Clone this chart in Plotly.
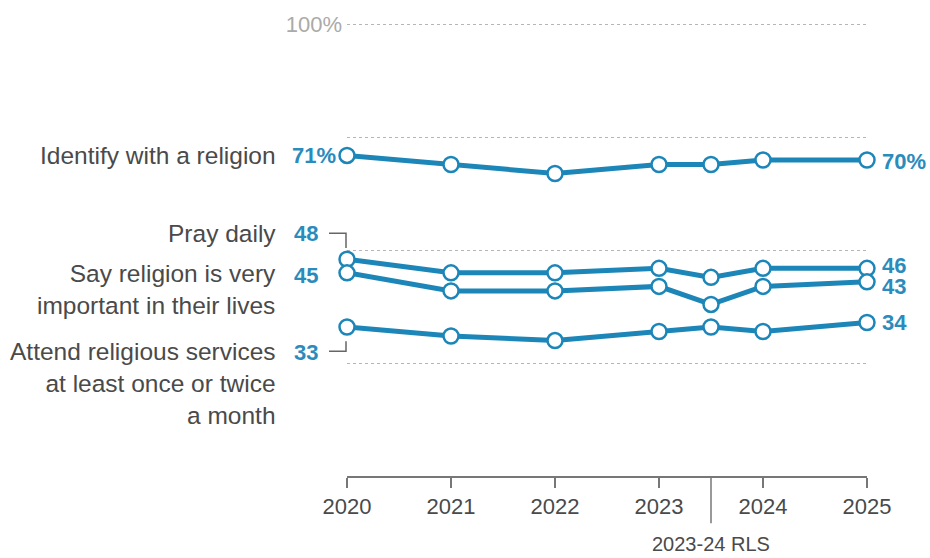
import plotly.graph_objects as go

# ---- data ----
years = [2020, 2021, 2022, 2023, 2023.5, 2024, 2025]
tick_years = [2020, 2021, 2022, 2023, 2024, 2025]
tick_labels = ["2020", "2021", "2022", "2023", "2024", "2025"]
identify = [71, 69, 67, 69, 69, 70, 70]
pray = [48, 45, 45, 46, 44, 46, 46]
important = [45, 41, 41, 42, 38, 42, 43]
attend = [33, 31, 30, 32, 33, 32, 34]
series_names = [
    "Identify with a religion",
    "Pray daily",
    "Say religion is very<br>important in their lives",
    "Attend religious services<br>at least once or twice<br>a month",
]
grid_vals = [25, 50, 75, 100]
grid_text = ["", "", "", "100%"]
rls_x = 2023.5
rls_label = "2023-24 RLS"

# ---- styling ----
BLUE = "#1d86b8"
LBLUE = "#2a8bbd"
GRAY = "#4a4a4a"
FONT = "Liberation Sans, Arial, sans-serif"
W, H = 930, 558
ML, MR, MT, MB = 347, 63, 12, 82
PW, PH = W - ML - MR, H - MT - MB


def px_x(px):
    return (px - ML) / PW


def px_y(py):
    return (H - MB - py) / PH


all_series = [identify, pray, important, attend]

fig = go.Figure()
for name, vals in zip(series_names, all_series):
    fig.add_trace(go.Scatter(
        x=years, y=vals, mode="lines+markers", name=name.replace("<br>", " "),
        line=dict(color=BLUE, width=5),
        marker=dict(size=15, color="white", line=dict(color=BLUE, width=2.5)),
        cliponaxis=False, hoverinfo="skip", showlegend=False,
    ))

ann = []
left_text_shift = [0, 26, -17, -56]
left_val_shift = [0, 26, -3, -25]
right_val_shift = [-2, 3, -5, 0]
for i, (name, vals) in enumerate(zip(series_names, all_series)):
    suffix = "%" if i == 0 else ""
    ann.append(dict(x=years[0], y=vals[0], xref="x", yref="y", text=name,
                    showarrow=False, xanchor="right", yanchor="middle", align="right",
                    xshift=-69, yshift=left_text_shift[i],
                    font=dict(family=FONT, size=24.5, color=GRAY)))
    ann.append(dict(x=years[0], y=vals[0], xref="x", yref="y",
                    text="<b>%d%s</b>" % (vals[0], suffix),
                    showarrow=False, xanchor="right", yanchor="middle",
                    xshift=-9 if i == 0 else -27, yshift=left_val_shift[i],
                    font=dict(family=FONT, size=22, color=LBLUE)))
    ann.append(dict(x=years[-1], y=vals[-1], xref="x", yref="y",
                    text="<b>%d%s</b>" % (vals[-1], suffix),
                    showarrow=False, xanchor="left", yanchor="middle",
                    xshift=13, yshift=right_val_shift[i],
                    font=dict(family=FONT, size=22, color=LBLUE)))

ann.append(dict(x=rls_x, y=px_y(545), xref="x", yref="paper", text=rls_label,
                showarrow=False, xanchor="center", yanchor="middle",
                font=dict(family=FONT, size=20, color=GRAY)))

shapes = [
    dict(type="line", xref="x", yref="paper", x0=rls_x, x1=rls_x,
         y0=0, y1=px_y(524), line=dict(color="#777", width=1.5)),
    dict(type="path", xref="paper", yref="paper",
         path="M %f,%f L %f,%f L %f,%f" % (px_x(329), px_y(229), px_x(346), px_y(229),
                                          px_x(346), px_y(244)),
         line=dict(color="#666", width=1.5)),
    dict(type="path", xref="paper", yref="paper",
         path="M %f,%f L %f,%f L %f,%f" % (px_x(346), px_y(339), px_x(346), px_y(349),
                                          px_x(329), px_y(349)),
         line=dict(color="#666", width=1.5)),
]

fig.update_layout(
    width=W, height=H,
    margin=dict(l=ML, r=MR, t=MT, b=MB, pad=0),
    paper_bgcolor="white", plot_bgcolor="white",
    font=dict(family=FONT, color=GRAY),
    annotations=ann, shapes=shapes,
    xaxis=dict(range=[2020, 2025], tickvals=tick_years, ticktext=tick_labels,
               ticks="outside", ticklen=10, tickwidth=1.5, tickcolor="#777",
               showline=True, linecolor="#777", linewidth=2,
               showgrid=False, zeroline=False,
               tickfont=dict(family=FONT, size=22, color=GRAY)),
    yaxis=dict(range=[0, 101], tickvals=grid_vals, ticktext=grid_text,
               showgrid=True, gridcolor="#b5b5b5", griddash="dot", gridwidth=1.3,
               zeroline=False, showline=False, ticks="",
               ticklabelstandoff=4,
               tickfont=dict(family=FONT, size=22, color="#aaaaaa")),
)

fig.write_html("out.html")
